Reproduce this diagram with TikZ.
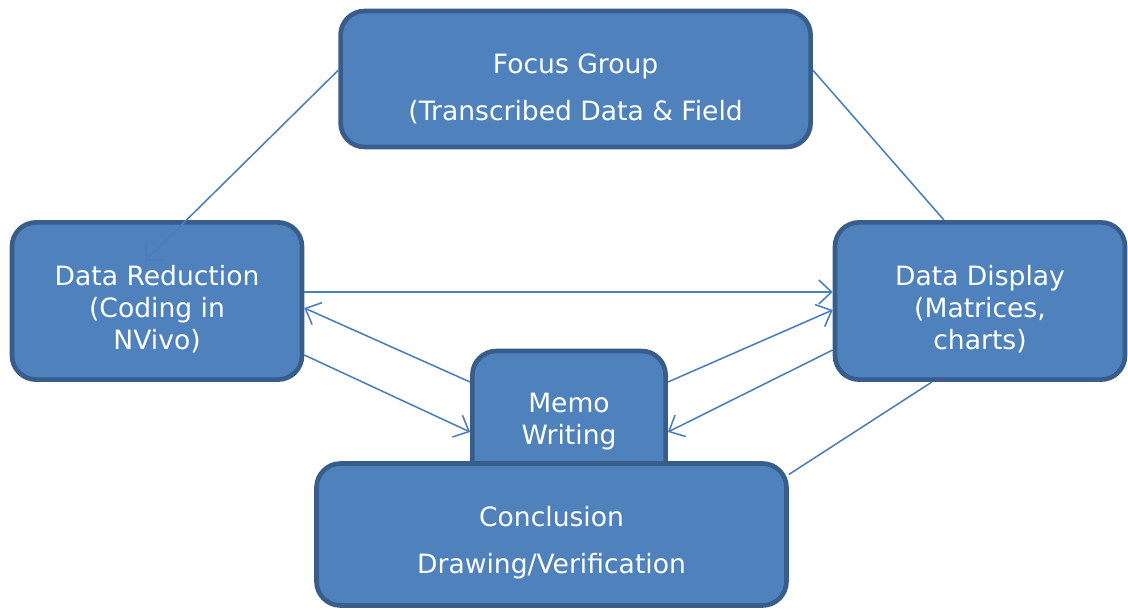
\documentclass[tikz,border=0pt]{standalone}
\usepackage{fontspec}
\setmainfont{DejaVu Sans}
\usetikzlibrary{arrows.meta}

\definecolor{boxfill}{HTML}{4F81BD}
\definecolor{boxline}{HTML}{385D8A}
\definecolor{linkcol}{HTML}{4A7EBB}

\tikzset{
  stage/.style={draw=boxline, line width=3.3pt, fill=boxfill, rounded corners=0.6cm, inner sep=0pt},
  stagetext/.style={text=white, align=center, font=\fontsize{18.9}{22.8}\selectfont},
  link/.style={draw=linkcol, line width=1.1pt},
  arr/.style={link, -{Straight Barb[length=3.2mm, width=6mm, line width=1.1pt]}}
}

\begin{document}
\begin{tikzpicture}
			\useasboundingbox (0,0) rectangle (28.2,-15.25);
			\node[stage, minimum width=11.75cm, minimum height=3.4cm,
				label={[stagetext, yshift=-.25cm]center:{Focus Group\\[10.6pt] (Transcribed Data \& Field}}] (focus) at (14.39,-1.975) {};
			\node[stage, minimum width=7.25cm, minimum height=3.93cm,
				label={[stagetext, yshift=-.2cm]center:{Data Reduction\\(Coding in\\NVivo)}}] (red) at (3.925,-7.525) {};
			\node[stage, minimum width=7.25cm, minimum height=3.93cm,
				label={[stagetext, yshift=-.2cm]center:{Data Display\\(Matrices,\\charts)}}] (disp) at (24.5,-7.525) {};
			\node[stage, minimum width=4.83cm, minimum height=3.45cm,
				label={[stagetext, yshift=-.04cm]center:{Memo\\Writing}}] (memo) at (14.225,-10.5) {};
			\node[stage, minimum width=11.75cm, minimum height=3.55cm,
				label={[stagetext, yshift=-.2cm]center:{Conclusion\\[10.6pt] Drawing/Verification}}] (concl) at (13.7875,-13.3625) {};
			\coordinate (redtip) at (3.625,-6.525);
			\draw[arr] ([yshift=.22cm]focus.west) -- (redtip);
			\draw[link] ([yshift=.22cm]focus.east) -- ([xshift=-.9cm]disp.north);
			\draw[arr] ([yshift=.225cm]red.east) -- ([yshift=.225cm]disp.west);
			\draw[arr] ([yshift=.95cm]memo.west) -- ([yshift=-.175cm]red.east);
			\draw[arr] ([yshift=-1.35cm]red.east) -- ([yshift=-.3cm]memo.west);
			\draw[arr] ([yshift=.95cm]memo.east) -- ([yshift=-.225cm]disp.west);
			\draw[arr] ([yshift=-1.225cm]disp.west) -- ([yshift=-.3cm]memo.east);
			\draw[link] ([yshift=1.5cm]concl.east) -- ([xshift=-1.2cm]disp.south);
\end{tikzpicture}
\end{document}
